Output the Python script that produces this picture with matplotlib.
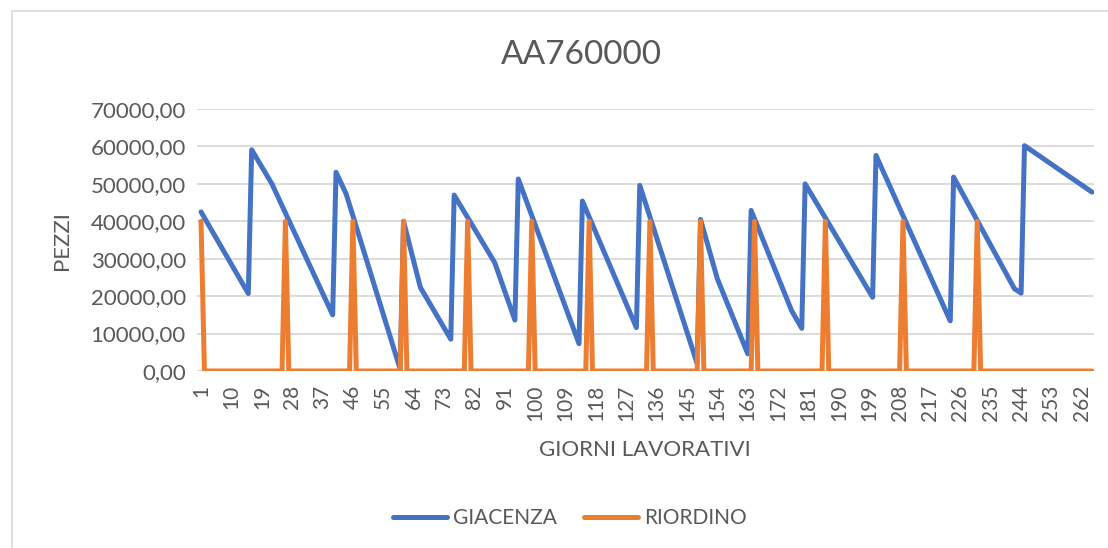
import numpy as np
import matplotlib
matplotlib.use("Agg")
import matplotlib.pyplot as plt
from matplotlib.patches import Rectangle

# giorni lavorativi
n_days = 265
days = np.arange(1, n_days + 1)

# giacenza: vertici della spezzata (giorno, pezzi)
giac_days = [1, 15, 16, 22, 40, 41, 44, 60, 61, 66, 75, 76, 88, 94, 95,
             113, 114, 130, 131, 148, 149, 154, 163, 164, 176, 179, 180,
             200, 201, 223, 224, 242, 244, 245, 265]
giac_vals = [42500, 20700, 59100, 50000, 15000, 53100, 47300, 500, 40000,
             22300, 8500, 47000, 29000, 13600, 51300, 7300, 45400, 11600,
             49600, 2000, 40500, 24600, 4600, 42900, 16100, 11400, 50000,
             19700, 57600, 13400, 51800, 22000, 20800, 60200, 47800]

# riordino: giorni in cui arriva l'ordine e quantita
riord_days = [1, 26, 46, 61, 80, 99, 116, 134, 149, 165, 186, 209, 231]
riord_qty = 40000
riordino = np.zeros(n_days)
riordino[np.array(riord_days) - 1] = riord_qty

yticks = [0, 10000, 20000, 30000, 40000, 50000, 60000, 70000]
xticks = list(range(1, n_days + 1, 9))

W, H = 1108, 548
grey = "#595959"
plt.rcParams['font.family'] = ['Lato', 'DejaVu Sans']

fig = plt.figure(figsize=(W / 100, H / 100), dpi=100)
ax = fig.add_axes([197 / W, 1 - 371 / H, (1093.5 - 197) / W, (371 - 109) / H])

ax.plot(giac_days, giac_vals, color="#4472C4", lw=3.6, label="GIACENZA",
        solid_capstyle="round", solid_joinstyle="round", zorder=3)
ax.plot(days, riordino, color="#ED7D31", lw=3.6, label="RIORDINO",
        solid_capstyle="round", solid_joinstyle="round", zorder=4)

ax.set_xlim(-0.2, n_days + 0.45)
ax.set_ylim(0, 70000)
ax.set_yticks(yticks)
ax.set_yticklabels([f"{v:.2f}".replace(".", ",") for v in yticks])
ax.set_xticks(xticks)
ax.set_xticklabels([str(t) for t in xticks], rotation=90)
ax.tick_params(length=0, colors=grey)
ax.tick_params(axis="y", pad=8, labelsize=16)
ax.tick_params(axis="x", pad=10, labelsize=15)
ax.grid(axis="y", color="#D9D9D9", lw=1.3)
ax.set_axisbelow(True)
for s in ax.spines.values():
    s.set_visible(False)

fig.text(581 / W, 1 - 55 / H, "AA760000", ha="center", va="center",
         fontsize=24, color=grey)
fig.text(62 / W, 1 - 241 / H, "PEZZI", rotation=90, ha="center",
         va="center", fontsize=16, color=grey)
fig.text(645 / W, 1 - 450 / H, "GIORNI LAVORATIVI", ha="center",
         va="center", fontsize=16, color=grey)

leg = fig.legend(loc="center", bbox_to_anchor=(570 / W, 1 - 518 / H),
                 ncol=2, frameon=False, fontsize=15, handlelength=2.6,
                 handletextpad=0.3, columnspacing=1.3)
for t in leg.get_texts():
    t.set_color(grey)

fig.patches.append(Rectangle((12 / W, -0.1), 1.2, 1 - 11 / H + 0.1,
                             transform=fig.transFigure, fill=False,
                             edgecolor="#D9D9D9", lw=1.2))

fig.savefig("out.png", dpi=100)
